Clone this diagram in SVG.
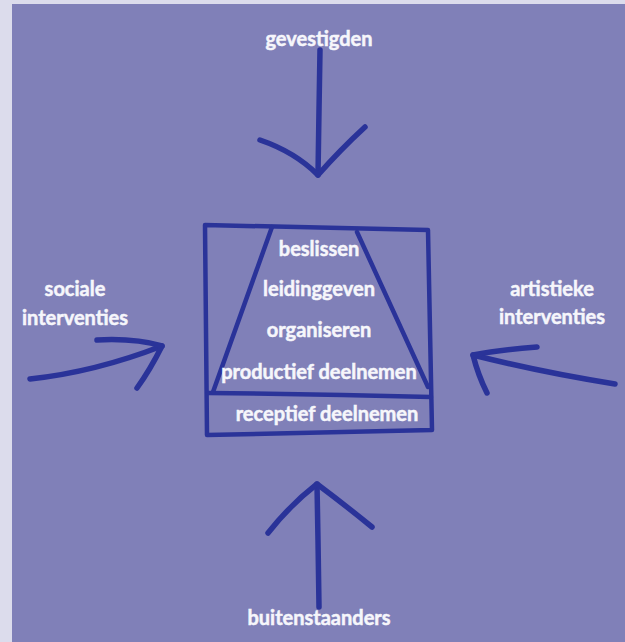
<svg xmlns="http://www.w3.org/2000/svg" width="625" height="642" viewBox="0 0 625 642">
<style>
.lbl{font-family:Lato,"Open Sans","Liberation Sans",sans-serif;font-weight:bold;font-size:20px;fill:#f6f6fb;stroke:#f6f6fb;stroke-width:0.5;text-anchor:middle}
.arr{fill:none;stroke:#2a3399;stroke-width:5.5;stroke-linecap:round;stroke-linejoin:round}
.box{fill:none;stroke:#2a3399;stroke-width:4.5;stroke-linecap:round;stroke-linejoin:round}
</style>
<rect x="0" y="0" width="625" height="642" fill="#dcdcec"/>
<rect x="12" y="4" width="613" height="638" fill="#8080b8"/>
<g id="connectors">
  <path class="arr" d="M320,50 L319,110 L318,175"/>
  <path class="arr" d="M260,140 Q295,152 318,175 Q340,150 365,127"/>
  <path class="arr" d="M30,379 Q95,372 162,346"/>
  <path class="arr" d="M97,340 Q135,338 162,346 Q150,370 137,388"/>
  <path class="arr" d="M615,384 Q540,372 473,355"/>
  <path class="arr" d="M537,347 Q500,350 473,355 Q478,375 487,393"/>
  <path class="arr" d="M319,607 L318,540 L317,484"/>
  <path class="arr" d="M268,533 Q290,505 317,484 Q345,505 372,527"/>
</g>
<g id="pyramid">
  <path class="box" d="M205,225 L428,230 L432,430 L207,435 Z"/>
  <path class="box" d="M208,393 Q320,394 431,397"/>
  <path class="box" d="M272,227 L213,392"/>
  <path class="box" d="M357,232 L428,387"/>
  <text class="lbl" x="319" y="256">beslissen</text>
  <text class="lbl" x="319" y="296">leidinggeven</text>
  <text class="lbl" x="319" y="337">organiseren</text>
  <text class="lbl" x="319" y="379">productief deelnemen</text>
  <text class="lbl" x="327" y="421">receptief deelnemen</text>
</g>
<g id="gevestigden"><text class="lbl" x="319" y="46">gevestigden</text></g>
<g id="sociale"><text class="lbl" x="75" y="296">sociale</text><text class="lbl" x="75" y="325">interventies</text></g>
<g id="artistieke"><text class="lbl" x="552" y="296">artistieke</text><text class="lbl" x="552" y="324">interventies</text></g>
<g id="buitenstaanders"><text class="lbl" x="319" y="625">buitenstaanders</text></g>
</svg>
